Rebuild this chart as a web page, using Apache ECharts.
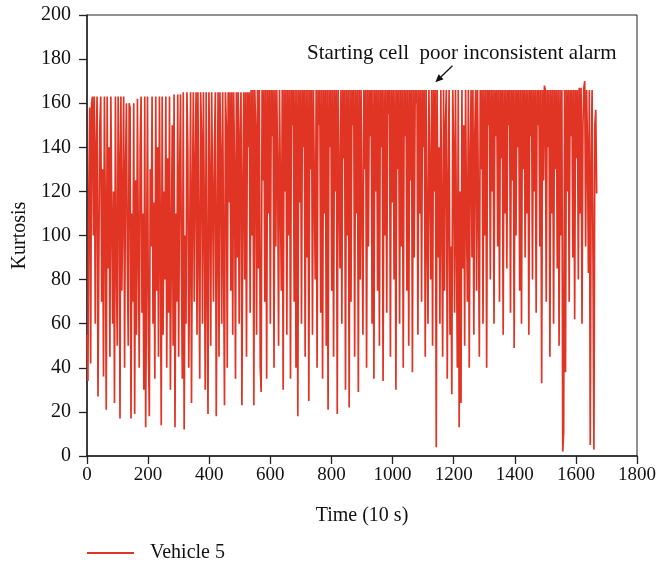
<!DOCTYPE html>
<html><head><meta charset="utf-8">
<script src="https://cdn.jsdelivr.net/npm/echarts@6/dist/echarts.min.js"></script>
<style>html,body{margin:0;padding:0;background:#fff}#c{width:659px;height:567px}</style>
</head><body><div id="c"></div>
<script>
var seriesName = 'Vehicle 5';
var timeStep = 3;
var kurtosis = [
55,34,120,158,42,160,163,100,163,60,140,163,27,95,150,163,70,130,36,163,
110,21,163,85,140,45,163,163,60,120,24,163,90,50,163,135,17,163,75,115,
163,40,130,160,90,50,160,158,17,110,70,160,19,125,55,162,95,40,140,163,
65,110,30,163,13,85,163,50,18,130,95,163,60,115,35,163,75,140,45,163,
100,14,163,55,120,80,163,40,135,65,163,30,95,150,50,164,13,110,70,164,
45,125,164,85,35,165,12,100,60,165,140,40,90,165,24,115,165,70,130,165,
55,165,95,35,165,145,60,165,110,30,165,80,19,165,125,50,165,165,70,140,
165,18,100,165,45,165,135,60,165,90,23,165,150,40,165,115,165,75,165,55,
165,130,35,165,90,165,60,145,165,23,120,165,80,165,45,165,140,165,65,166,
100,166,23,166,150,55,166,85,166,40,29,166,125,166,70,166,35,166,110,166,
60,166,145,166,40,166,95,166,130,50,166,166,75,166,30,166,120,166,55,166,
100,166,35,166,150,166,70,166,40,166,18,166,115,166,60,166,140,166,45,166,
90,166,25,166,130,166,55,166,166,80,166,40,166,150,166,65,166,35,166,110,
166,50,166,21,166,140,166,75,166,45,166,120,166,19,166,166,85,166,60,166,
135,166,30,166,100,166,22,166,70,166,150,166,45,166,110,166,29,166,80,166,
166,55,166,130,166,40,166,95,166,145,166,60,166,35,166,120,166,75,166,50,
166,140,166,34,166,100,166,65,166,155,166,45,166,115,166,80,166,30,166,130,
166,60,166,95,166,40,166,145,166,75,166,50,166,125,166,38,166,90,166,160,
166,55,166,110,166,70,166,140,166,45,166,100,60,166,130,80,166,50,166,120,
166,4,166,90,140,60,166,110,45,166,75,150,166,35,120,166,55,95,28,166,
140,65,166,100,40,166,13,120,24,166,85,150,50,166,110,70,166,40,135,166,
90,166,55,145,166,75,166,115,45,166,130,166,60,166,100,166,40,166,150,166,
80,166,120,166,60,166,145,166,95,166,70,166,135,166,55,166,110,166,85,166,
150,166,65,166,125,166,49,166,100,166,140,166,75,166,60,166,130,166,90,166,
110,166,55,166,145,166,80,166,120,166,65,166,150,166,95,166,33,166,125,168,
166,70,166,140,166,45,166,110,166,60,166,130,166,85,166,50,166,100,166,2,
11,166,38,166,120,166,70,166,145,166,90,166,62,166,135,166,80,167,110,167,
60,150,167,170,95,166,140,83,166,5,130,166,90,3,150,157,119
];
var xTicks = {min:0, max:1800, interval:200};
var yTicks = {min:0, max:200, interval:20};
var annotationText = 'Starting cell  poor inconsistent alarm';

var data = kurtosis.map(function(v,i){return [i*timeStep, v];});
var font = '"Liberation Serif", "DejaVu Serif", serif';
var fmt = function(v){return String(v);};
var red = '#e03424';
var chart = echarts.init(document.getElementById('c'));
chart.setOption({
  animation:false,
  textStyle:{fontFamily:font},
  grid:{left:87,right:21,top:15,bottom:111,show:true,borderColor:'#222',borderWidth:1},
  xAxis:{type:'value',min:xTicks.min,max:xTicks.max,interval:xTicks.interval,
    name:'Time (10 s)',nameLocation:'middle',nameGap:50,
    nameTextStyle:{fontFamily:font,fontSize:20,color:'#111'},
    axisLine:{lineStyle:{color:'#222',width:1.5}},
    axisTick:{length:8,lineStyle:{color:'#222',width:1.3}},
    axisLabel:{fontFamily:font,fontSize:19,color:'#111',margin:10,formatter:fmt},
    splitLine:{show:false}},
  yAxis:{type:'value',min:yTicks.min,max:yTicks.max,interval:yTicks.interval,
    name:'Kurtosis',nameLocation:'middle',nameGap:56,
    nameTextStyle:{fontFamily:font,fontSize:20,color:'#111'},
    axisLine:{show:true,lineStyle:{color:'#222',width:1.5}},
    axisTick:{show:true,length:8,lineStyle:{color:'#222',width:1.3}},
    axisLabel:{fontFamily:font,fontSize:20,color:'#111',margin:16,formatter:fmt},
    splitLine:{show:false}},
  legend:{left:87,top:543,padding:0,itemWidth:47,itemHeight:2,itemGap:10,
    textStyle:{fontFamily:font,fontSize:20,color:'#111',padding:[0,0,0,11]},
    data:[{name:seriesName,icon:'rect'}]},
  series:[{name:seriesName,type:'line',data:data,showSymbol:false,symbol:'none',
    lineStyle:{color:red,width:1.7},itemStyle:{color:red}}]
});
var tail = chart.convertToPixel({gridIndex:0},[1196,177]);
var head = chart.convertToPixel({gridIndex:0},[1140,169.5]);
var ang = Math.atan2(head[1]-tail[1], head[0]-tail[0]);
var ah = 8, aw = 3.5;
var bx = head[0]-ah*Math.cos(ang), by = head[1]-ah*Math.sin(ang);
chart.setOption({graphic:[
  {type:'text',left:307,top:43,style:{text:annotationText,font:'21px '+font,fill:'#111'}},
  {type:'line',shape:{x1:tail[0],y1:tail[1],x2:bx,y2:by},style:{stroke:'#111',lineWidth:1.3}},
  {type:'polygon',shape:{points:[[head[0],head[1]],[bx+aw*Math.sin(ang),by-aw*Math.cos(ang)],[bx-aw*Math.sin(ang),by+aw*Math.cos(ang)]]},style:{fill:'#111'}}
]});
</script></body></html>
